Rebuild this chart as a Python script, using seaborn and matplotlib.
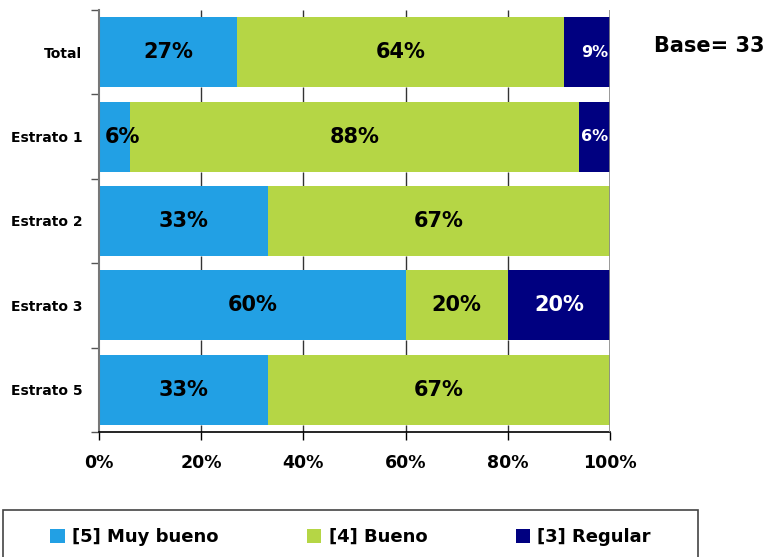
import matplotlib
matplotlib.use("Agg")
import matplotlib.pyplot as plt
import seaborn as sns
import pandas as pd
import numpy as np
from matplotlib.patches import Patch, Rectangle

categories = ["Total", "Estrato 1", "Estrato 2", "Estrato 3", "Estrato 5"]
muy_bueno = [27, 6, 33, 60, 33]
bueno = [64, 88, 67, 20, 67]
regular = [9, 6, 0, 20, 0]
series_names = ["[5] Muy bueno", "[4] Bueno", "[3] Regular"]
colors = ["#22A0E4", "#B5D645", "#000080"]
x_ticks = [0, 20, 40, 60, 80, 100]
base_text = "Base= 33"
bar_w = 0.83

sns.set_theme(style="white")
plt.rcParams["font.family"] = ["DejaVu Sans"]
plt.rcParams["font.weight"] = "bold"
plt.rcParams["text.color"] = "black"
plt.rcParams["xtick.labelcolor"] = "black"
plt.rcParams["ytick.labelcolor"] = "black"

df = pd.DataFrame({"cat": categories, "s1": muy_bueno, "s2": bueno, "s3": regular})
df["c1"] = df["s1"]
df["c2"] = df["s1"] + df["s2"]
df["c3"] = df["s1"] + df["s2"] + df["s3"]

fig = plt.figure(figsize=(7.69, 5.57), dpi=100)
ax = fig.add_axes([99 / 769, 1 - 432 / 557, 511 / 769, 422 / 557])
ax.grid(False)

# stacked bars drawn as overlapping cumulative totals
for col, color in zip(["c3", "c2", "c1"], colors[::-1]):
    sns.barplot(data=df, x=col, y="cat", orient="h", color=color,
                width=bar_w, saturation=1, linewidth=0, ax=ax)

# vertical gridlines, only in the gaps between the bars
n = len(categories)
half = bar_w / 2
gap_lo = [-0.5] + [i + half for i in range(n)]
gap_hi = [i - half for i in range(n)] + [n - 0.5]
for lo, hi in zip(gap_lo, gap_hi):
    ax.vlines(x_ticks[1:-1], lo, hi, color="#333333", lw=1, zorder=0.5)
ax.vlines([x_ticks[-1]], -0.5, n - 0.5, color="#888888", lw=1.2, zorder=4)

# segment labels (narrow segments get a small nudge to the right)
for i, cat in enumerate(categories):
    left = 0
    for j, vals in enumerate([muy_bueno, bueno, regular]):
        v = vals[i]
        if v > 0:
            small = (j == 2 and v < 10)
            nudge = 8 if (v < 10 and not (j == 2 and i == 1)) else 0
            ax.annotate(f"{v}%", (left + v / 2, i), xytext=(nudge * 0.72, 0),
                        textcoords="offset points", ha="center", va="center",
                        fontsize=11.5 if small else 15, fontweight="bold",
                        color="white" if j == 2 else "black", zorder=5)
        left += v

ax.set_xlim(0, 100)
ax.set_ylim(n - 0.5, -0.5)
ax.set_xticks(x_ticks)
ax.set_xticklabels([f"{t}%" for t in x_ticks], fontsize=12.5, fontweight="bold")
ax.set_yticks(range(n))
ax.set_yticklabels(categories, fontsize=10, fontweight="bold")
ax.set_yticks(np.arange(-0.5, n, 1), minor=True)
ax.tick_params(axis="y", which="major", length=0, pad=12)
ax.tick_params(axis="y", which="minor", length=6, width=1, color="#555555", direction="out", left=True)
ax.tick_params(axis="x", which="major", length=6, width=1, color="black", direction="out", bottom=True, pad=10)
ax.set_xlabel("")
ax.set_ylabel("")
ax.grid(False)

for s in ["top", "right"]:
    ax.spines[s].set_visible(False)
ax.spines["left"].set_color("#777777")
ax.spines["left"].set_linewidth(1.5)
ax.spines["bottom"].set_color("black")
ax.spines["bottom"].set_linewidth(1.2)

fig.text(709 / 769, 1 - 46 / 557, base_text, ha="center", va="center",
         fontsize=15, fontweight="bold")

# legend frame and entries
fig.patches.append(Rectangle((3 / 769, -20 / 557), 695 / 769, 67 / 557,
                             transform=fig.transFigure, facecolor="white",
                             edgecolor="#444444", lw=1.2))
handles = [Patch(facecolor=c, edgecolor="none") for c in colors]
leg = fig.legend(handles, series_names, ncol=3, loc="center",
                 bbox_to_anchor=(350.5 / 769, 1 - 537 / 557),
                 frameon=False, prop={"size": 13, "weight": "bold"},
                 handlelength=0.8, handleheight=0.8, handletextpad=0.4,
                 columnspacing=4.9, borderaxespad=0, borderpad=0)

fig.savefig("out.png", dpi=100)
